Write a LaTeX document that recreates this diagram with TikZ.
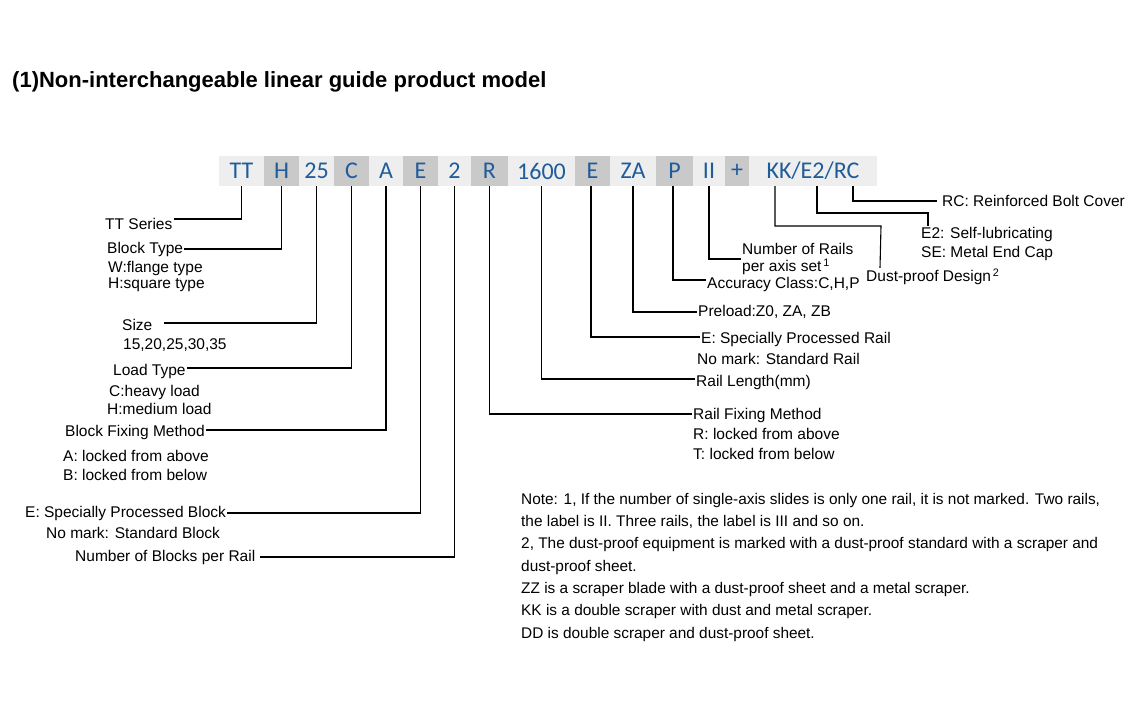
\documentclass[tikz,border=0pt]{standalone}
\usepackage{fontspec}
\setmainfont{Liberation Sans}
\newfontfamily\codefont{Carlito}
\usetikzlibrary{positioning, calc}
\definecolor{codeBlue}{HTML}{1F5C99}
\definecolor{cellDark}{HTML}{C9C9C9}
\definecolor{cellLight}{HTML}{EEEEEE}
\tikzset{
    cell/.style={minimum height=30pt, inner sep=0pt, font=\codefont\fontsize{24}{24}\selectfont, text=codeBlue},
    lite/.style={cell, fill=cellLight},
    dark/.style={cell, fill=cellDark},
    lbl/.style={anchor=west, inner sep=1pt, font=\fontsize{15.5}{17}\selectfont},
    lead/.style={line width=1.1pt, black}
}
\begin{document}
\begin{tikzpicture}[x=1pt, y=-1pt]
    \useasboundingbox (0,0) rectangle (1140,720);

    % Title
    \node[anchor=west, inner sep=0pt, font=\bfseries\fontsize{22}{24}\selectfont] (title) at (12,82) {(1)Non-interchangeable linear guide product model};

    % Model code strip
    \node[lite, minimum width=45pt] (cTT) at (241.5,171) {TT};
    \node[dark, minimum width=35pt] (cH) at (281.5,171) {H};
    \node[lite, minimum width=35pt] (cSize) at (316.5,171) {25};
    \node[dark, minimum width=35pt] (cC) at (351.5,171) {C};
    \node[lite, minimum width=34pt] (cA) at (386,171) {A};
    \node[dark, minimum width=35pt] (cE) at (420.5,171) {E};
    \node[lite, minimum width=33pt] (cTwo) at (454.5,171) {2};
    \node[dark, minimum width=37pt] (cR) at (489.5,171) {R};
    \node[lite, minimum width=67pt] (cLen) at (541.5,171) {1600};
    \node[dark, minimum width=35pt] (cER) at (592.5,171) {E};
    \node[lite, minimum width=46pt] (cZA) at (633,171) {ZA};
    \node[dark, minimum width=37pt] (cP) at (674.5,171) {P};
    \node[lite, minimum width=32pt] (cII) at (709,171) {II};
    \node[dark, minimum width=24pt] (cPlus) at (737,171) {+};
    \node[lite, minimum width=128pt] (cKK) at (813,171) {KK/E2/RC};
    \coordinate (kKK) at (775,186);
    \coordinate (kE2) at (817,186);
    \coordinate (kRC) at (853,186);

    % Left labels
    \node[lbl] (lTT) at (104,224) {TT Series};
    \node[lbl] (lH) at (106,249) {Block Type};
    \node[lbl] at (107,268) {W:flange type};
    \node[lbl] at (107,285) {H:square type};
    \node[lbl] (lSize) at (121,325) {Size};
    \node[lbl] at (122,345) {15,20,25,30,35};
    \node[lbl] (lC) at (112,371) {Load Type};
    \node[lbl] at (108,392) {C:heavy load};
    \node[lbl] at (106,409) {H:medium load};
    \node[lbl] (lA) at (64,432) {Block Fixing Method};
    \node[lbl] at (62,456) {A: locked from above};
    \node[lbl] at (62,475) {B: locked from below};
    \node[lbl] (lE) at (24,513) {E: Specially Processed Block};
    \node[lbl] at (45,533) {No mark: Standard Block};
    \node[lbl] (lTwo) at (74,557) {Number of Blocks per Rail};

    % Right labels
    \node[lbl] (lR) at (692,415) {Rail Fixing Method};
    \node[lbl] at (692,434) {R: locked from above};
    \node[lbl] at (692,454) {T: locked from below};
    \node[lbl] (lLen) at (695,382) {Rail Length(mm)};
    \node[lbl] (lER) at (700,339) {E: Specially Processed Rail};
    \node[lbl] at (696,359) {No mark: Standard Rail};
    \node[lbl] (lZA) at (697,312) {Preload:Z0, ZA, ZB};
    \node[lbl] (lP) at (706,284) {Accuracy Class:C,H,P};
    \node[lbl] (lII) at (741,249) {Number of Rails};
    \node[lbl] at (741,267) {per axis set\textsuperscript{\,1}};
    \node[lbl] (lKK) at (865,277) {Dust-proof Design\textsuperscript{\,2}};
    \node[lbl] (lE2) at (920,234) {E2: Self-lubricating};
    \node[lbl] at (920,253) {SE: Metal End Cap};
    \node[lbl] (lRC) at (941,201) {RC: Reinforced Bolt Cover};

    % Leaders to the left
    \draw[lead] (cTT.south) |- ([yshift=5pt]lTT.east);
    \draw[lead] (cH.south) |- (lH.east);
    \draw[lead] (cSize.south) |- ([xshift=10pt,yshift=2pt]lSize.east);
    \draw[lead] (cC.south) |- ([yshift=3pt]lC.east);
    \draw[lead] (cA.south) |- ([yshift=2pt]lA.east);
    \draw[lead] (cE.south) |- (lE.east);
    \draw[lead] (cTwo.south) |- ([xshift=4pt]lTwo.east);

    % Leaders to the right
    \draw[lead] (cR.south) |- ([yshift=1pt]lR.west);
    \draw[lead] (cLen.south) |- ([yshift=3pt]lLen.west);
    \draw[lead] ([xshift=-1.5pt]cER.south) |- ([yshift=2pt]lER.west);
    \draw[lead] (cZA.south) |- (lZA.west);
    \draw[lead] ([xshift=-1.5pt]cP.south) |- ([yshift=4pt]lP.west);
    \draw[lead] (cII.south) |- ([yshift=-10pt]lII.west);
    \draw[lead] (kKK) |- (881,226) -- ([xshift=15pt]lKK.north west);
    \draw[lead] (kE2) |- (928,213) -- ([xshift=8pt]lE2.north west);
    \draw[lead] (kRC) |- ([xshift=-4pt]lRC.west);

    % Notes
    \node[anchor=north west, inner sep=0pt, align=left, font=\fontsize{15.4}{22.3}\selectfont] (notes) at (521,493) {Note: 1, If the number of single-axis slides is only one rail, it is not marked. Two rails,\\
    the label is II. Three rails, the label is III and so on.\\
    2, The dust-proof equipment is marked with a dust-proof standard with a scraper and\\
    dust-proof sheet.\\
    ZZ is a scraper blade with a dust-proof sheet and a metal scraper.\\
    KK is a double scraper with dust and metal scraper.\\
    DD is double scraper and dust-proof sheet.};
\end{tikzpicture}
\end{document}
